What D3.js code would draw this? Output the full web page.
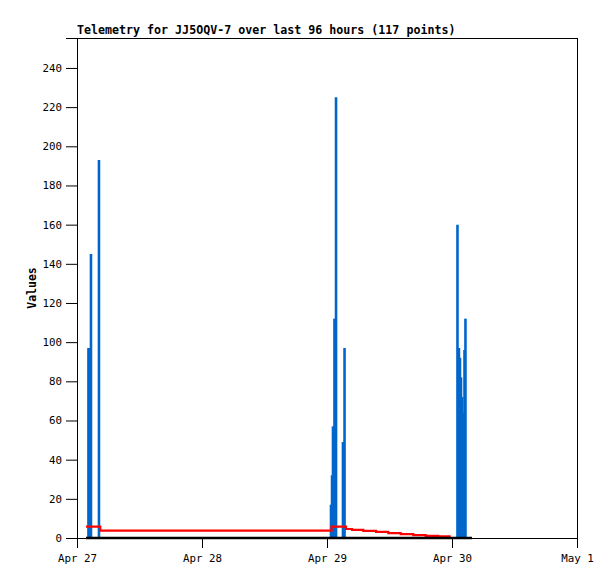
<!DOCTYPE html>
<html>
<head>
<meta charset="utf-8">
<script src="https://cdn.jsdelivr.net/npm/d3@7"></script>
<style>
  html, body { margin: 0; padding: 0; background: #fff; }
  svg { display: block; }
  text { font-family: "DejaVu Sans Mono", "Liberation Mono", monospace; }
</style>
</head>
<body>
<svg id="chart" width="615" height="579"></svg>
<script>
// ---- data ----
const titleText = "Telemetry for JJ5OQV-7 over last 96 hours (117 points)";
const yLabel = "Values";
const yTicks = [0, 20, 40, 60, 80, 100, 120, 140, 160, 180, 200, 220, 240];
const xTickDates = ["2024-04-27T00:00", "2024-04-28T00:00", "2024-04-29T00:00", "2024-04-30T00:00", "2024-05-01T00:00"];
const xTickLabels = ["Apr 27", "Apr 28", "Apr 29", "Apr 30", "May 1"];

// blue series (impulses)
const blueTimes = [
  "2024-04-27T02:12", "2024-04-27T02:24", "2024-04-27T02:41", "2024-04-27T04:13",
  "2024-04-29T00:46", "2024-04-29T00:58", "2024-04-29T01:09", "2024-04-29T01:26", "2024-04-29T01:44",
  "2024-04-29T03:04", "2024-04-29T03:22",
  "2024-04-30T01:03", "2024-04-30T01:20", "2024-04-30T01:32", "2024-04-30T01:44", "2024-04-30T01:55",
  "2024-04-30T02:07", "2024-04-30T02:15", "2024-04-30T02:24", "2024-04-30T02:35"
];
const blueValues = [97, 97, 145, 193, 17, 32, 57, 112, 225, 49, 97, 160, 97, 92, 82, 72, 64, 50, 96, 112];

// red series (step line)
const redTimes = [
  "2024-04-27T01:44", "2024-04-27T04:28", "2024-04-29T00:52", "2024-04-29T03:39", "2024-04-29T04:48",
  "2024-04-29T06:58", "2024-04-29T09:25", "2024-04-29T11:46", "2024-04-29T14:09", "2024-04-29T16:34",
  "2024-04-29T18:57", "2024-04-29T21:22", "2024-04-29T23:45"
];
const redValues = [5.8, 3.8, 5.8, 4.6, 4.1, 3.6, 3.1, 2.5, 2.0, 1.5, 1.1, 0.8, 0.8];

// black series (zero line)
const blackTimes = ["2024-04-27T01:44", "2024-04-30T03:50"];
const blackValues = [0, 0];

// ---- drawing ----
const parse = d3.timeParse("%Y-%m-%dT%H:%M");
const W = 615, H = 579;
const margin = { left: 77, top: 38, right: 38, bottom: 41 };
const svg = d3.select("#chart");

const x = d3.scaleTime()
  .domain([parse(xTickDates[0]), parse(xTickDates[xTickDates.length - 1])])
  .range([margin.left, W - margin.right]);
const y = d3.scaleLinear()
  .domain([0, 255.3])
  .range([H - margin.bottom, margin.top]);

svg.append("rect").attr("width", W).attr("height", H).attr("fill", "#fff");

// frame (top & right)
svg.append("path")
  .attr("d", `M${margin.left},${margin.top + 0.5}H${W - margin.right + 0.5}V${H - margin.bottom}`)
  .attr("fill", "none").attr("stroke", "#000").attr("stroke-width", 1)
  .attr("shape-rendering", "crispEdges");

// blue impulses
const blue = blueTimes.map((t, i) => ({ t: parse(t), v: blueValues[i] }));
svg.append("g").selectAll("line").data(blue).join("line")
  .attr("x1", d => x(d.t)).attr("x2", d => x(d.t))
  .attr("y1", y(0)).attr("y2", d => y(d.v))
  .attr("stroke", "#0066cc").attr("stroke-width", 2.6);

// red step line
const red = redTimes.map((t, i) => ({ t: parse(t), v: redValues[i] }));
svg.append("path").datum(red)
  .attr("d", d3.line().x(d => x(d.t)).y(d => y(d.v)).curve(d3.curveStepAfter))
  .attr("fill", "none").attr("stroke", "#ff0000").attr("stroke-width", 2.2);

// axes
const xAxis = d3.axisBottom(x)
  .tickValues(xTickDates.map(parse))
  .tickFormat((d, i) => xTickLabels[i])
  .tickSize(10).tickPadding(6);
const gx = svg.append("g").attr("transform", `translate(0,${y(0)})`).call(xAxis);

const yAxis = d3.axisLeft(y).tickValues(yTicks).tickSize(11).tickPadding(4);
const gy = svg.append("g").attr("transform", `translate(${margin.left},0)`).call(yAxis);

[gx, gy].forEach(g => {
  g.select(".domain").attr("stroke", "#000").attr("stroke-width", 1);
  g.selectAll(".tick line").attr("stroke", "#000");
  g.selectAll(".tick text").attr("fill", "#000")
    .style("font-family", "'DejaVu Sans Mono', monospace").style("font-size", "10.8px");
});
gx.select(".domain").remove();
gx.append("line").attr("x1", margin.left).attr("x2", W - margin.right)
  .attr("y1", 0.5).attr("y2", 0.5).attr("stroke", "#000");

// black zero line
const black = blackTimes.map((t, i) => ({ t: parse(t), v: blackValues[i] }));
svg.append("path").datum(black)
  .attr("d", d3.line().x(d => x(d.t)).y(d => y(d.v)))
  .attr("fill", "none").attr("stroke", "#000").attr("stroke-width", 2.4);

// title
svg.append("text").attr("x", margin.left).attr("y", 34)
  .style("font-size", "11.65px").style("font-weight", "bold").attr("fill", "#000")
  .text(titleText);

// y label
svg.append("text")
  .attr("transform", `translate(36,${(margin.top + H - margin.bottom) / 2}) rotate(-90)`)
  .attr("text-anchor", "middle")
  .style("font-size", "11.5px").style("font-weight", "bold").attr("fill", "#000")
  .text(yLabel);
</script>
</body>
</html>
